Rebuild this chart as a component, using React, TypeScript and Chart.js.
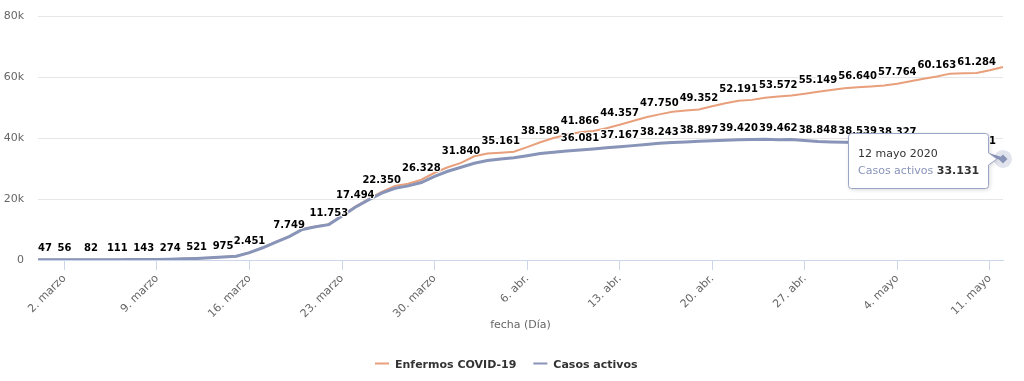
import React, { useEffect, useRef } from 'react';
import { Chart, registerables } from 'chart.js';

Chart.register(...registerables);

const categories = [
  '29. feb.',
  '1. marzo', '2. marzo', '3. marzo', '4. marzo', '5. marzo', '6. marzo', '7. marzo', '8. marzo', '9. marzo', '10. marzo',
  '11. marzo', '12. marzo', '13. marzo', '14. marzo', '15. marzo', '16. marzo', '17. marzo', '18. marzo', '19. marzo', '20. marzo',
  '21. marzo', '22. marzo', '23. marzo', '24. marzo', '25. marzo', '26. marzo', '27. marzo', '28. marzo', '29. marzo', '30. marzo', '31. marzo',
  '1. abr.', '2. abr.', '3. abr.', '4. abr.', '5. abr.', '6. abr.', '7. abr.', '8. abr.', '9. abr.', '10. abr.',
  '11. abr.', '12. abr.', '13. abr.', '14. abr.', '15. abr.', '16. abr.', '17. abr.', '18. abr.', '19. abr.', '20. abr.',
  '21. abr.', '22. abr.', '23. abr.', '24. abr.', '25. abr.', '26. abr.', '27. abr.', '28. abr.', '29. abr.', '30. abr.',
  '1. mayo', '2. mayo', '3. mayo', '4. mayo', '5. mayo', '6. mayo', '7. mayo', '8. mayo', '9. mayo', '10. mayo', '11. mayo', '12. mayo',
];

const enfermos = [
  47, 50, 56, 70, 82, 96, 111, 125, 143, 198,
  274, 390, 521, 730, 975, 1250, 2451, 4050, 5900, 7749,
  10100, 11000, 11753, 14600, 17494, 20000, 22350, 24300, 25000, 26328,
  28600, 30400, 31840, 34000, 34900, 35161, 35500, 37000, 38589, 40000,
  41100, 41866, 42300, 43200, 44357, 45600, 46800, 47750, 48600, 49000,
  49352, 50400, 51400, 52191, 52500, 53200, 53572, 53900, 54500, 55149,
  55700, 56300, 56640, 56900, 57200, 57764, 58600, 59400, 60163, 61100,
  61200, 61284, 62200, 63300,
];

const activos = [
  47, 50, 56, 70, 82, 96, 111, 125, 143, 198,
  274, 388, 518, 725, 968, 1240, 2430, 4010, 5850, 7680,
  10000, 10880, 11600, 14450, 17300, 19700, 21900, 23500, 24300, 25400,
  27400, 29100, 30400, 31700, 32600, 33100, 33500, 34200, 34900, 35300,
  35700, 36081, 36400, 36800, 37167, 37500, 37900, 38243, 38500, 38700,
  38897, 39100, 39300, 39420, 39500, 39550, 39462, 39500, 39200, 38848,
  38700, 38600, 38539, 38450, 38350, 38327, 37500, 36800, 36200, 35600,
  35300, 35101, 34400, 33131,
];

// indices of points whose data labels are visible in the reference
const enfermosLabelIdx = [0, 2, 4, 6, 8, 10, 12, 14, 16, 19, 22, 24, 26, 29, 32, 35, 38, 41, 44, 47, 50, 53, 56, 59, 62, 65, 68, 71];
const activosLabelIdx = [41, 44, 47, 50, 53, 56, 59, 62, 65, 68, 71];

const seriesNames = ['Enfermos COVID-19', 'Casos activos'];
const xTitle = 'fecha (Día)';
const tooltipHeader = '12 mayo 2020';

const ORANGE = '#e89f7b';
const BLUE = '#8894b8';
const FONT = '"DejaVu Sans", sans-serif';

function fmt(v: number): string {
  return String(Math.round(v)).replace(/\B(?=(\d{3})+(?!\d))/g, '.');
}

const labelsPlugin = {
  id: 'hcDataLabels',
  afterDatasetsDraw(chart: any) {
    const ctx = chart.ctx;
    const area = chart.chartArea;
    ctx.save();
    ctx.font = `bold 10px ${FONT}`;
    ctx.textAlign = 'left';
    ctx.textBaseline = 'alphabetic';
    ctx.lineJoin = 'round';
    const groups: [number, number[]][] = [[0, enfermosLabelIdx], [1, activosLabelIdx]];
    groups.forEach(([ds, idxs]) => {
      const meta = chart.getDatasetMeta(ds);
      const data = chart.data.datasets[ds].data as number[];
      idxs.forEach((i) => {
        const el = meta.data[i];
        if (!el) return;
        const t = fmt(data[i]);
        const w = ctx.measureText(t).width;
        let x = el.x - w / 2;
        x = Math.max(area.left, Math.min(area.right - w, x));
        const y = el.y - 8.5;
        ctx.strokeStyle = '#ffffff';
        ctx.lineWidth = 2;
        ctx.strokeText(t, x, y);
        ctx.fillStyle = '#000000';
        ctx.fillText(t, x, y);
      });
    });
    ctx.restore();
  },
};

const overlayPlugin = {
  id: 'hcOverlay',
  afterDraw(chart: any) {
    const ctx = chart.ctx;
    ctx.save();

    // Legend
    ctx.font = `bold 11px ${FONT}`;
    ctx.textBaseline = 'alphabetic';
    ctx.textAlign = 'left';
    let lx = 375;
    const ly = 363;
    [ORANGE, BLUE].forEach((c, i) => {
      ctx.strokeStyle = c;
      ctx.lineWidth = 2;
      ctx.beginPath();
      ctx.moveTo(lx, ly + 0.5);
      ctx.lineTo(lx + 14, ly + 0.5);
      ctx.stroke();
      ctx.fillStyle = '#333333';
      ctx.fillText(seriesNames[i], lx + 20, ly + 4.5);
      lx += 20 + ctx.measureText(seriesNames[i]).width + 17;
    });

    // Hover marker + tooltip on last point of "Casos activos"
    const meta = chart.getDatasetMeta(1);
    const idx = activos.length - 1;
    const pt = meta.data[idx];
    if (pt) {
      const px = pt.x;
      const py = pt.y;
      ctx.fillStyle = 'rgba(136,148,184,0.25)';
      ctx.beginPath();
      ctx.arc(px, py, 9, 0, Math.PI * 2);
      ctx.fill();
      ctx.fillStyle = BLUE;
      ctx.beginPath();
      ctx.moveTo(px, py - 4.5);
      ctx.lineTo(px + 4.5, py);
      ctx.lineTo(px, py + 4.5);
      ctx.lineTo(px - 4.5, py);
      ctx.closePath();
      ctx.fill();

      const w = 140;
      const h = 55;
      const right = Math.round(px) - 15 + 0.5;
      const left = right - w;
      const top = Math.round(py) - 26 + 0.5;
      const bottom = top + h;
      const r = 3;
      const ay = py;
      const path = () => {
        ctx.beginPath();
        ctx.moveTo(left + r, top);
        ctx.lineTo(right - r, top);
        ctx.arcTo(right, top, right, top + r, r);
        ctx.lineTo(right, ay - 6);
        ctx.lineTo(px - 6, ay);
        ctx.lineTo(right, ay + 6);
        ctx.lineTo(right, bottom - r);
        ctx.arcTo(right, bottom, right - r, bottom, r);
        ctx.lineTo(left + r, bottom);
        ctx.arcTo(left, bottom, left, bottom - r, r);
        ctx.lineTo(left, top + r);
        ctx.arcTo(left, top, left + r, top, r);
        ctx.closePath();
      };
      ctx.save();
      ctx.shadowColor = 'rgba(0,0,0,0.18)';
      ctx.shadowBlur = 4;
      ctx.shadowOffsetX = 1;
      ctx.shadowOffsetY = 1;
      path();
      ctx.fillStyle = '#ffffff';
      ctx.fill();
      ctx.restore();
      path();
      ctx.fillStyle = '#ffffff';
      ctx.fill();
      ctx.strokeStyle = '#9aa4c6';
      ctx.lineWidth = 1;
      ctx.stroke();

      ctx.font = `11px ${FONT}`;
      ctx.fillStyle = '#333333';
      ctx.textBaseline = 'alphabetic';
      ctx.fillText(tooltipHeader, left + 9.5, top + 23);
      const name = seriesNames[1] + ' ';
      ctx.fillStyle = BLUE;
      ctx.fillText(name, left + 9.5, top + 40);
      const nw = ctx.measureText(name).width;
      ctx.font = `bold 11px ${FONT}`;
      ctx.fillStyle = '#333333';
      ctx.fillText(fmt(activos[idx]), left + 9.5 + nw, top + 40);
    }
    ctx.restore();
  },
};

export default function App() {
  const canvasRef = useRef<HTMLCanvasElement | null>(null);

  useEffect(() => {
    document.body.style.margin = '0';
    const canvas = canvasRef.current;
    if (!canvas) return;
    Chart.defaults.font.family = FONT;

    const chart = new Chart(canvas, {
      type: 'line',
      data: {
        labels: categories,
        datasets: [
          {
            label: seriesNames[0],
            data: enfermos,
            borderColor: ORANGE,
            backgroundColor: ORANGE,
            borderWidth: 2,
            pointRadius: 0,
            tension: 0,
            fill: false,
            order: 1,
          },
          {
            label: seriesNames[1],
            data: activos,
            borderColor: BLUE,
            backgroundColor: BLUE,
            borderWidth: 3,
            pointRadius: 0,
            tension: 0,
            fill: false,
            order: 0,
          },
        ],
      },
      options: {
        responsive: false,
        animation: false,
        events: [],
        devicePixelRatio: 1,
        layout: { padding: { left: 0, right: 21, top: 16, bottom: 46 } },
        plugins: {
          legend: { display: false },
          tooltip: { enabled: false },
          title: { display: false },
        },
        scales: {
          x: {
            type: 'category',
            offset: false,
            afterBuildTicks: (scale: any) => {
              scale.ticks = scale.ticks.filter((t: any) => (t.value - 2) % 7 === 0);
            },
            afterFit: (scale: any) => {
              scale.height = 75;
              scale.paddingLeft = 0;
              scale.paddingRight = 0;
            },
            grid: {
              display: true,
              drawOnChartArea: false,
              drawTicks: true,
              tickLength: 10,
              color: '#ccd6eb',
            },
            border: { display: true, color: '#ccd6eb', width: 1 },
            ticks: {
              autoSkip: false,
              maxRotation: 45,
              minRotation: 45,
              padding: 2,
              color: '#666666',
              font: { size: 11, family: FONT },
            },
            title: {
              display: true,
              text: xTitle,
              color: '#666666',
              font: { size: 11, family: FONT },
              padding: { top: 4, bottom: 3 },
            },
          },
          y: {
            min: 0,
            max: 80000,
            afterFit: (scale: any) => {
              scale.width = 38;
              scale.paddingTop = 0;
              scale.paddingBottom = 0;
            },
            ticks: {
              stepSize: 20000,
              padding: 14,
              color: '#666666',
              font: { size: 11, family: FONT },
              callback: (v: any) => (Number(v) === 0 ? '0' : `${Number(v) / 1000}k`),
            },
            grid: { color: '#e6e6e6', drawTicks: false },
            border: { display: false },
          },
        },
      },
      plugins: [labelsPlugin, overlayPlugin],
    });

    return () => chart.destroy();
  }, []);

  return (
    <div style={{ width: 1024, height: 381, position: 'relative', background: '#ffffff' }}>
      <canvas ref={canvasRef} width={1024} height={381} style={{ width: 1024, height: 381, display: 'block' }} />
    </div>
  );
}
